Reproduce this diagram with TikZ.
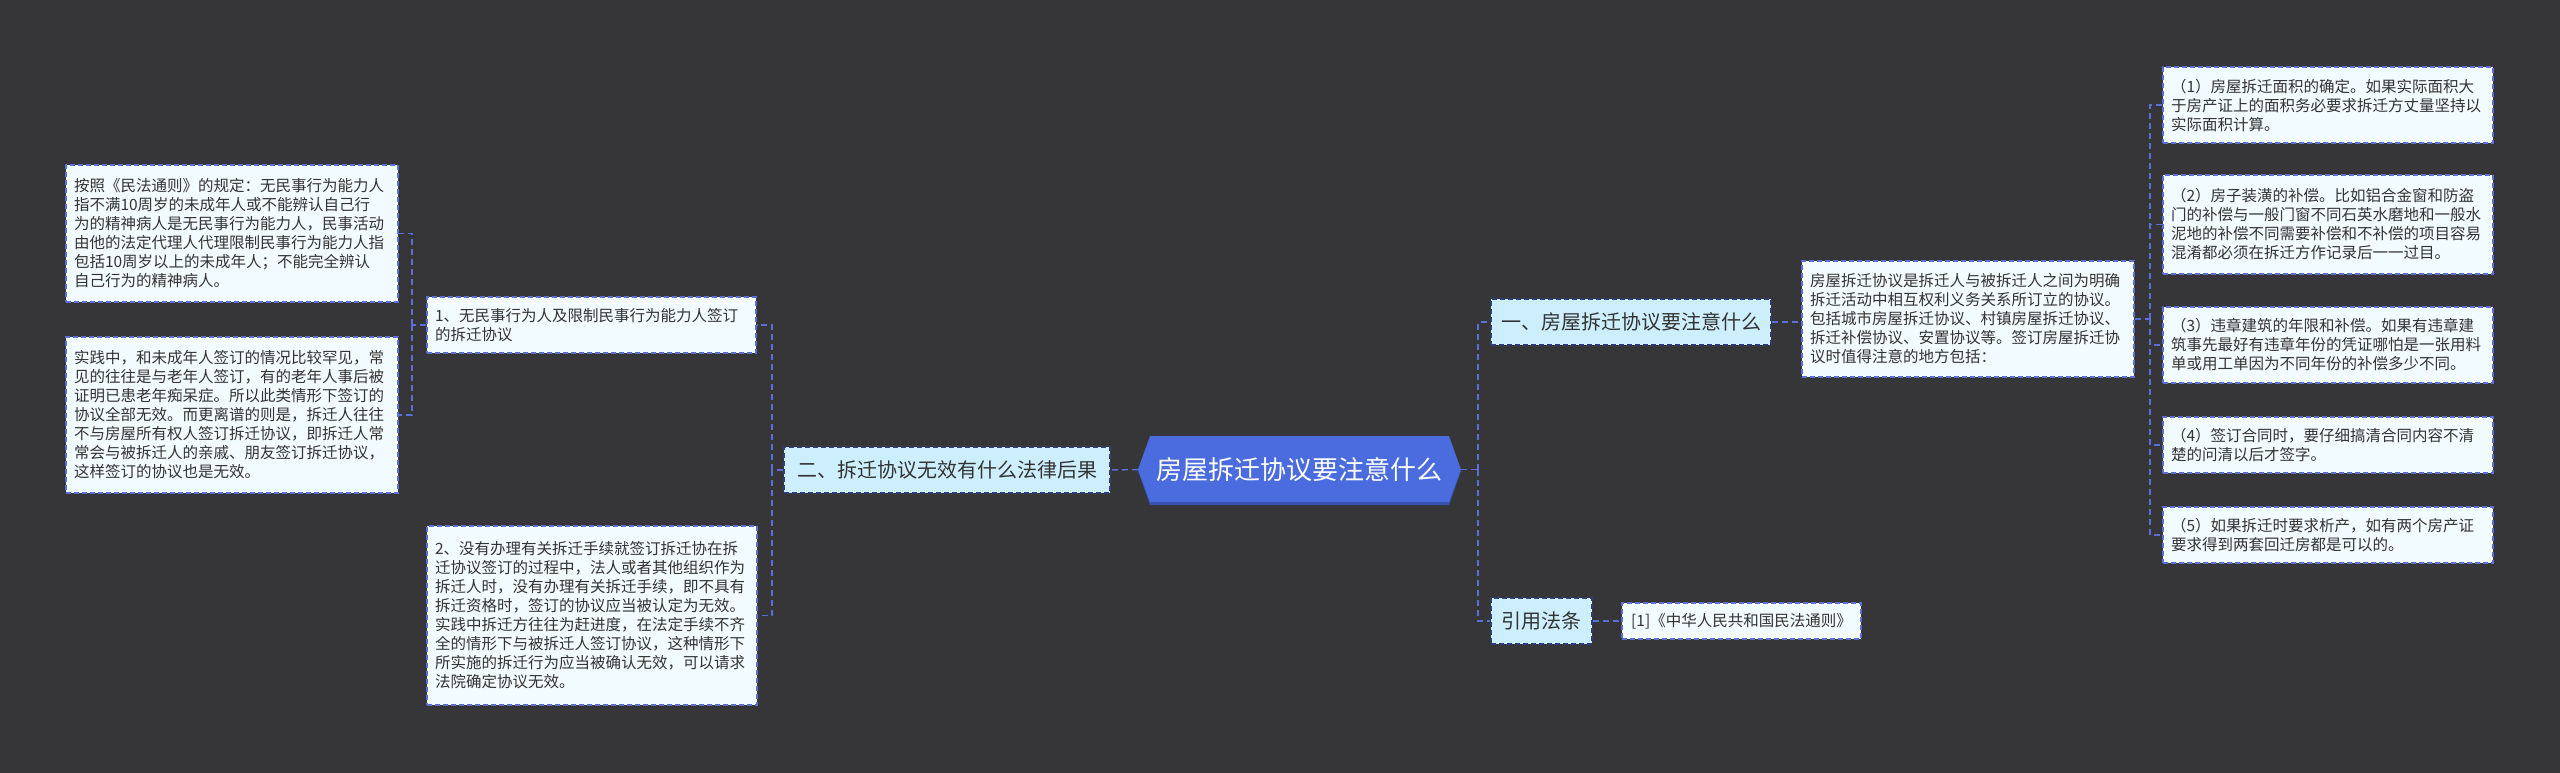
\documentclass[tikz,border=0pt]{standalone}
\usepackage{fontspec}
\setmainfont{Noto Sans CJK SC}
\definecolor{bg}{HTML}{363538}
\definecolor{ln}{HTML}{5B6FD8}
\definecolor{leaffill}{HTML}{F2FBFF}
\definecolor{lvlfill}{HTML}{CDEFFD}
\definecolor{lvlborder}{HTML}{2E3D78}
\definecolor{cfill}{HTML}{4A6CDE}
\definecolor{cdark}{HTML}{3550B0}
\definecolor{txt}{HTML}{333333}
\tikzset{
  conn/.style={draw=ln, line width=1.5pt, dash pattern=on 6pt off 4pt},
  leaf/.style={draw=ln, line width=1.3pt, dash pattern=on 5pt off 3pt, fill=leaffill, text=txt,
    font=\fontsize{15.5pt}{19pt}\selectfont, align=left, inner xsep=8pt, inner ysep=3pt, anchor=center},
  lvl/.style={draw=lvlborder, line width=1.3pt, dash pattern=on 5pt off 3pt, fill=lvlfill, text=txt,
    font=\fontsize{20pt}{24pt}\selectfont, inner sep=0pt, anchor=center, align=center},
}
\begin{document}
\begin{tikzpicture}[x=1pt,y=-1pt]
\useasboundingbox (0,0) rectangle (2560,773);
\fill[bg] (0,0) rectangle (2560,773);

% center
\fill[cdark] (1138,471) -- (1150,438) -- (1449,438) -- (1461,471) -- (1449,505) -- (1150,505) -- cycle;
\fill[cfill] (1138,469.5) -- (1150,436) -- (1449,436) -- (1461,469.5) -- (1449,502) -- (1150,502) -- cycle;
\node[text=white, font=\fontsize{26pt}{30pt}\selectfont, minimum width=323pt, minimum height=67pt, inner sep=0pt] (c) at (1299.5,469.5) {房屋拆迁协议要注意什么};

% level 1
\node[lvl, minimum width=326pt, minimum height=46pt] (E) at (947,470) {二、拆迁协议无效有什么法律后果};
\node[lvl, minimum width=280pt, minimum height=46pt] (F) at (1631,322) {一、房屋拆迁协议要注意什么};
\node[lvl, minimum width=101pt, minimum height=46pt] (G) at (1541.5,621) {引用法条};

% left leaves
\node[leaf, text width=316pt, minimum height=137pt] (A) at (232,233.5) {按照《民法通则》的规定：无民事行为能力人\\指不满10周岁的未成年人或不能辨认自己行\\为的精神病人是无民事行为能力人，民事活动\\由他的法定代理人代理限制民事行为能力人指\\包括10周岁以上的未成年人；不能完全辨认\\自己行为的精神病人。};
\node[leaf, text width=316pt, minimum height=156pt] (B) at (232,415) {实践中，和未成年人签订的情况比较罕见，常\\见的往往是与老年人签订，有的老年人事后被\\证明已患老年痴呆症。所以此类情形下签订的\\协议全部无效。而更离谱的则是，拆迁人往往\\不与房屋所有权人签订拆迁协议，即拆迁人常\\常会与被拆迁人的亲戚、朋友签订拆迁协议，\\这样签订的协议也是无效。};
\node[leaf, text width=313pt, minimum height=56pt] (C) at (591.5,325) {1、无民事行为人及限制民事行为能力人签订\\的拆迁协议};
\node[leaf, text width=314pt, minimum height=179pt] (D) at (592,615.5) {2、没有办理有关拆迁手续就签订拆迁协在拆\\迁协议签订的过程中，法人或者其他组织作为\\拆迁人时，没有办理有关拆迁手续，即不具有\\拆迁资格时，签订的协议应当被认定为无效。\\实践中拆迁方往往为赶进度，在法定手续不齐\\全的情形下与被拆迁人签订协议，这种情形下\\所实施的拆迁行为应当被确认无效，可以请求\\法院确定协议无效。};

% right leaves
\node[leaf, text width=316pt, minimum height=116pt] (I) at (1968,319) {房屋拆迁协议是拆迁人与被拆迁人之间为明确\\拆迁活动中相互权利义务关系所订立的协议。\\包括城市房屋拆迁协议、村镇房屋拆迁协议、\\拆迁补偿协议、安置协议等。签订房屋拆迁协\\议时值得注意的地方包括：};
\node[leaf, text width=314pt, minimum height=76pt] (R1) at (2328,105) {（1）房屋拆迁面积的确定。如果实际面积大\\于房产证上的面积务必要求拆迁方丈量坚持以\\实际面积计算。};
\node[leaf, text width=314pt, minimum height=99pt] (R2) at (2328,224.5) {（2）房子装潢的补偿。比如铝合金窗和防盗\\门的补偿与一般门窗不同石英水磨地和一般水\\泥地的补偿不同需要补偿和不补偿的项目容易\\混淆都必须在拆迁方作记录后一一过目。};
\node[leaf, text width=314pt, minimum height=76pt] (R3) at (2328,345) {（3）违章建筑的年限和补偿。如果有违章建\\筑事先最好有违章年份的凭证哪怕是一张用料\\单或用工单因为不同年份的补偿多少不同。};
\node[leaf, text width=314pt, minimum height=56pt] (R4) at (2328,445) {（4）签订合同时，要仔细搞清合同内容不清\\楚的问清以后才签字。};
\node[leaf, text width=314pt, minimum height=56pt] (R5) at (2328,535) {（5）如果拆迁时要求析产，如有两个房产证\\要求得到两套回迁房都是可以的。};
\node[leaf, minimum width=239pt, minimum height=36pt, inner ysep=0pt] (H) at (1741.5,621) {[1]《中华人民共和国民法通则》};

% junctions
\coordinate (j1) at (772,470);
\coordinate (j2) at (412,325);
\coordinate (j3) at (1478,469.5);
\coordinate (j4) at (2150,319);

% connectors
\draw[conn] (c.west) -- (E.east);
\draw[conn] (E.west) -- (j1);
\draw[conn] (j1) |- (C.east);
\draw[conn] (j1) |- (D.east);
\draw[conn] (C.west) -- (j2);
\draw[conn] (j2) |- (A.east);
\draw[conn] (j2) |- (B.east);
\draw[conn] (c.east) -- (j3);
\draw[conn] (j3) |- (F.west);
\draw[conn] (j3) |- (G.west);
\draw[conn] (F.east) -- (F.east -| I.west);
\draw[conn] (G.east) -- (H.west);
\draw[conn] (I.east) -- (j4);
\draw[conn] (j4) |- (R1.west);
\draw[conn] (j4) |- (R2.west);
\draw[conn] (j4) |- (R3.west);
\draw[conn] (j4) |- (R4.west);
\draw[conn] (j4) |- (R5.west);
\end{tikzpicture}
\end{document}
